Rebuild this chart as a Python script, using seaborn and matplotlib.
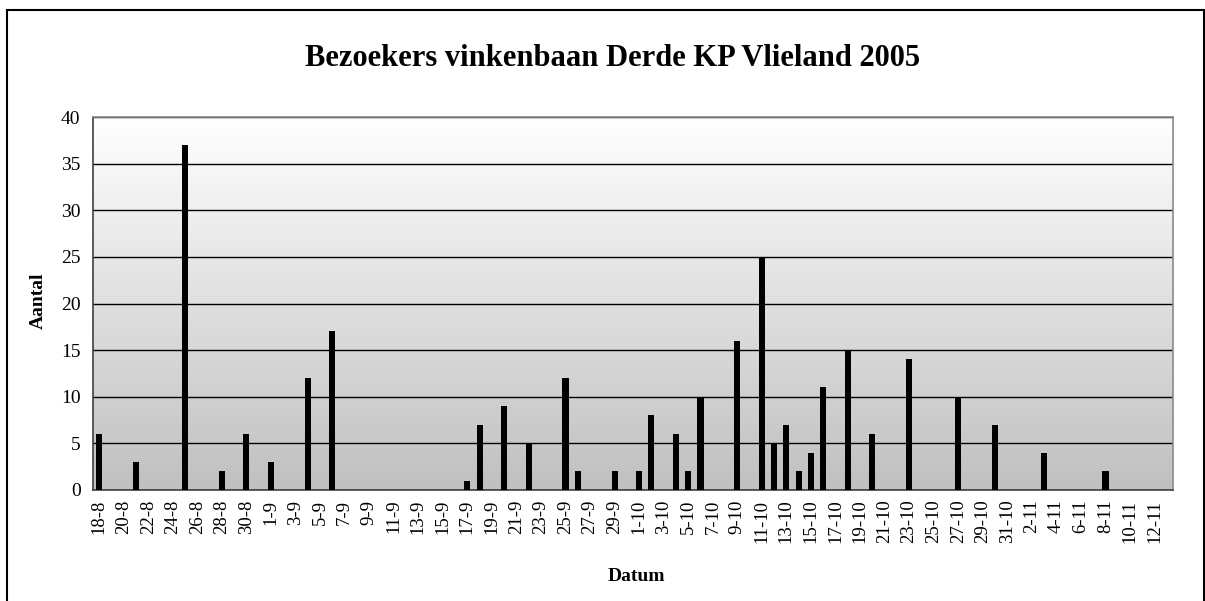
import numpy as np
import pandas as pd
import matplotlib.pyplot as plt
import matplotlib.patches as mpatches
from matplotlib.colors import LinearSegmentedColormap
import seaborn as sns

# dagen 18-8 t/m 13-11 (2005)
datums = [f"{d.day}-{d.month}" for d in pd.date_range('2005-08-18', '2005-11-13')]

# aantallen per dag, per maand
aantal_aug = [6, 0, 0, 3, 0, 0, 0, 37, 0, 0, 2, 0, 6, 0]  # 18-8 .. 31-8
aantal_sep = [3, 0, 0, 12, 0, 17, 0, 0, 0, 0,
              0, 0, 0, 0, 0, 0, 1, 7, 0, 9,
              0, 5, 0, 0, 12, 2, 0, 0, 2, 0]
aantal_okt = [2, 8, 0, 6, 2, 10, 0, 0, 16, 0,
              25, 5, 7, 2, 4, 11, 0, 15, 0, 6,
              0, 0, 14, 0, 0, 0, 10, 0, 0, 7, 0]
aantal_nov = [0, 0, 4, 0, 0, 0, 0, 2, 0, 0, 0, 0, 0]  # 1-11 .. 13-11

df = pd.DataFrame({'Datum': datums,
                   'Aantal': aantal_aug + aantal_sep + aantal_okt + aantal_nov})

sns.set_style("white")
plt.rcParams['font.family'] = ['Liberation Serif', 'DejaVu Serif']
plt.rcParams['text.color'] = 'black'
plt.rcParams['xtick.color'] = 'black'
plt.rcParams['ytick.color'] = 'black'

fig = plt.figure(figsize=(12.05, 6.01), dpi=100)
ax = fig.add_axes([0.0772, 0.1847, 0.8962, 0.6206])

# grijs verloop als achtergrond
grad = LinearSegmentedColormap.from_list('grijs', ['#c0c0c0', '#ffffff'])
ax.imshow(np.linspace(0, 1, 256).reshape(-1, 1), cmap=grad, aspect='auto',
          extent=[0, 1, 0, 1], transform=ax.transAxes, origin='lower', zorder=0)

sns.barplot(data=df, x='Datum', y='Aantal', color='black', width=0.5,
            saturation=1, linewidth=0, ax=ax, zorder=3)

ax.set_xlim(-0.5, len(datums) - 0.5)
ax.set_ylim(0, 40)
ax.set_yticks(range(0, 41, 5))
ax.yaxis.grid(True, color='black', linewidth=1)
for gl in ax.get_ygridlines():
    gl.set_zorder(1)

ax.set_xticks(range(0, len(datums), 2))
ax.set_xticklabels(datums[::2], rotation=90)
ax.set_xticks(np.arange(-0.5, len(datums), 2), minor=True)
ax.tick_params(axis='x', which='major', length=0, pad=7, labelsize=13.5)
ax.tick_params(axis='x', which='minor', length=6, width=1, color='black', direction='out')
ax.tick_params(axis='y', length=6, width=1, color='black', direction='out', labelsize=14, pad=3)

for s in ['top', 'right']:
    ax.spines[s].set_color('#8a8a8a')
for s in ['left', 'bottom']:
    ax.spines[s].set_color('#404040')
for s in ax.spines.values():
    s.set_linewidth(1.2)
    s.set_visible(True)

ax.set_xlabel('')
ax.set_ylabel('')
fig.text(0.508, 0.903, 'Bezoekers vinkenbaan Derde KP Vlieland 2005',
         ha='center', va='center', fontsize=22, fontweight='bold')
fig.text(0.0315, 0.5, 'Aantal', ha='center', va='center', rotation=90,
         fontsize=14, fontweight='bold')
fig.text(0.528, 0.04, 'Datum', ha='center', va='center',
         fontsize=14, fontweight='bold')

# kader rond de grafiek
fig.patches.append(mpatches.Rectangle((0.006, -0.05), 0.993, 1.034,
                                      transform=fig.transFigure, fill=False,
                                      edgecolor='black', linewidth=1.5))

plt.savefig('out.png', dpi=100)
